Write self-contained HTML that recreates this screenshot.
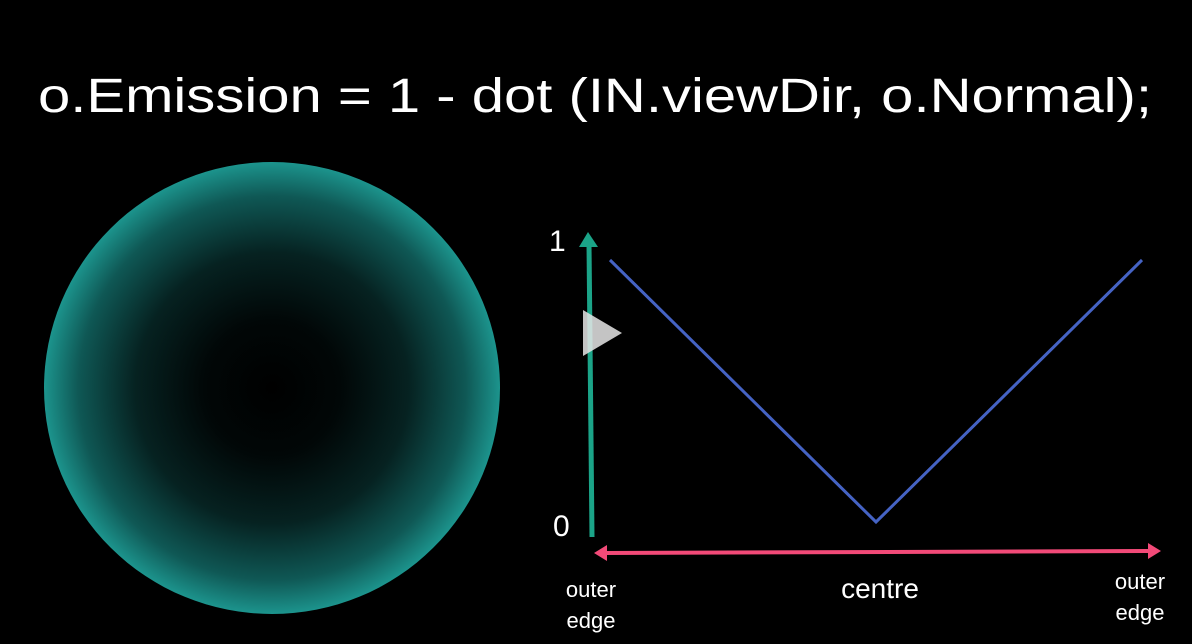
<!DOCTYPE html>
<html><head><meta charset="utf-8"><style>
html,body{margin:0;padding:0;background:#000;width:1192px;height:644px;overflow:hidden}
svg{display:block;font-family:"Liberation Sans",sans-serif}
</style></head><body>
<svg width="1192" height="644" viewBox="0 0 1192 644">
<defs>
<radialGradient id="sg" cx="50%" cy="50%" r="50%">
<stop offset="0" stop-color="#000"/>
<stop offset="0.3" stop-color="#010707"/>
<stop offset="0.6" stop-color="#062221"/>
<stop offset="0.85" stop-color="#0f5855"/>
<stop offset="1" stop-color="#1c948d"/>
</radialGradient>
</defs>
<text x="38" y="112" fill="#fff" font-size="48" textLength="1114" lengthAdjust="spacingAndGlyphs">o.Emission =  1 - dot (IN.viewDir, o.Normal);</text>
<ellipse cx="272" cy="388" rx="228" ry="226" fill="url(#sg)"/>
<g id="chart">
<line x1="592" y1="537" x2="589" y2="244" stroke="#1ba488" stroke-width="5"/>
<polygon points="588,232 579,247 598,247" fill="#1ba488"/>
<line x1="605" y1="553" x2="1150" y2="551" stroke="#f24a78" stroke-width="4"/>
<polygon points="594,553 607,545 607,561" fill="#f24a78"/>
<polygon points="1161,551 1148,543 1148,559" fill="#f24a78"/>
<text x="549" y="251" fill="#fff" font-size="30">1</text>
<text x="553" y="536" fill="#fff" font-size="30">0</text>
<text x="591" y="597" fill="#fff" font-size="22" text-anchor="middle">outer</text>
<text x="591" y="628" fill="#fff" font-size="22" text-anchor="middle">edge</text>
<text x="880" y="598" fill="#fff" font-size="28" text-anchor="middle">centre</text>
<text x="1140" y="589" fill="#fff" font-size="22" text-anchor="middle">outer</text>
<text x="1140" y="620" fill="#fff" font-size="22" text-anchor="middle">edge</text>
<g id="series"></g>
<polygon points="583,310 583,356 622,333" fill="#e6e6e6" opacity="0.85"/>
</g>
</svg>
<script>
const positions = [0, 0.5, 1];
const emission = [1, 0, 1];
const sx = v => 610 + v * 532;
const sy = v => 522 - v * 262;
const layer = document.getElementById('series');
const pl = document.createElementNS('http://www.w3.org/2000/svg', 'polyline');
pl.setAttribute('points', positions.map((p, i) => sx(p) + ',' + sy(emission[i])).join(' '));
pl.setAttribute('fill', 'none');
pl.setAttribute('stroke', '#4563c4');
pl.setAttribute('stroke-width', '3');


layer.appendChild(pl);
</script>
</body></html>
